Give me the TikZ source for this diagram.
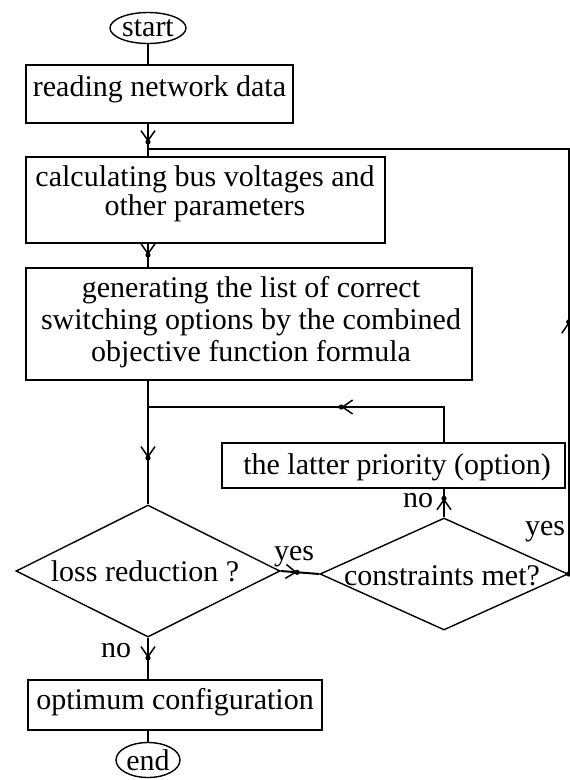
\documentclass[tikz,border=0pt]{standalone}
\usepackage{fontspec}
\setmainfont{Liberation Serif}
\usetikzlibrary{shapes.geometric,arrows.meta,decorations.markings}
\tikzset{
  box/.style={draw, line width=2pt, rectangle, inner sep=0pt},
  txt/.style={font=\fontsize{30}{32}\selectfont, align=center, inner sep=0pt},
  dia/.style={draw, diamond, line width=1.4pt, inner sep=0pt, shape aspect=2},
  term/.style={draw, ellipse, line width=1.4pt, inner sep=0pt, font=\fontsize{30}{32}\selectfont},
  conn/.style={line width=2pt},
  marr/.style={postaction={decorate}, decoration={markings, mark=at position #1 with {\arrow{Straight Barb[length=10pt,width=14pt,line width=1.5pt]}\fill (0,0) circle (2.6pt);}}},
}
\begin{document}
\begin{tikzpicture}[x=1pt,y=-1pt]
\useasboundingbox (0,0) rectangle (570,780);
\coordinate (col) at (148,0);
% terminals
\node[term, minimum width=76pt, minimum height=31pt] (st) at (148,28) {start};
\node[term, minimum width=64pt, minimum height=35pt] (en) at (148,760) {end};
% boxes
\node[box, minimum width=267pt, minimum height=58pt] (b1) at (159.5,94) {};
\node[txt] (t1) at (159.5,89) {reading network data};
\node[box, minimum width=359pt, minimum height=86pt] (b2) at (205.5,200) {};
\node[txt, font=\fontsize{30}{29}\selectfont] (t2) at (205,194) {calculating bus voltages and\\other parameters};
\node[box, minimum width=446pt, minimum height=112pt] (b3) at (249,324) {};
\node[txt] (t3) at (251,322) {generating the list of correct\\switching options by the combined\\objective function formula};
\node[box, minimum width=343pt, minimum height=45pt] (b4) at (393.5,465.5) {};
\node[txt] (t4) at (397,467) {the latter priority (option)};
\node[box, minimum width=294pt, minimum height=50pt] (b5) at (175,705) {};
\node[txt] (t5) at (175,702) {optimum configuration};
% decisions
\node[dia, minimum width=264pt, minimum height=132pt] (d1) at (148,571) {};
\node[txt] (td1) at (145,571) {loss reduction ?};
\node[dia, minimum width=248pt, minimum height=112pt] (d2) at (444,574) {};
\node[txt] (td2) at (442,576) {constraints met?};
% junctions
\coordinate (j1) at (148,149);
\coordinate (j2) at (148,407);
% connectors
\draw[conn] (st.south) -- (b1.north -| col);
\draw[conn, marr=0.56] (b1.south -| col) -- (b2.north -| col);
\draw[conn, marr=0.48] (b2.south -| col) -- (b3.north -| col);
\draw[conn, marr=0.624] (b3.south -| col) -- (d1.north);
\draw[conn, marr=0.425] (d1.east) -- (d2.west);
\draw[conn, marr=0.667] (d2.north) -- (b4.south -| d2);
\draw[conn, marr=0.416] (b4.north -| d2) |- (j2);
\draw[conn, marr=0.298] (d2.east) |- (j1);
\fill (d2.east) circle (2.6pt);
\draw[conn, marr=0.49] (d1.south) -- (b5.north -| col);
\draw[conn] (b5.south -| col) -- (en.north);
% labels
\node[txt] (ly1) at (294,557) {yes};
\node[txt] (ly2) at (545,532) {yes};
\node[txt] (ln1) at (418,501) {no};
\node[txt] (ln2) at (116,651) {no};
\end{tikzpicture}
\end{document}
